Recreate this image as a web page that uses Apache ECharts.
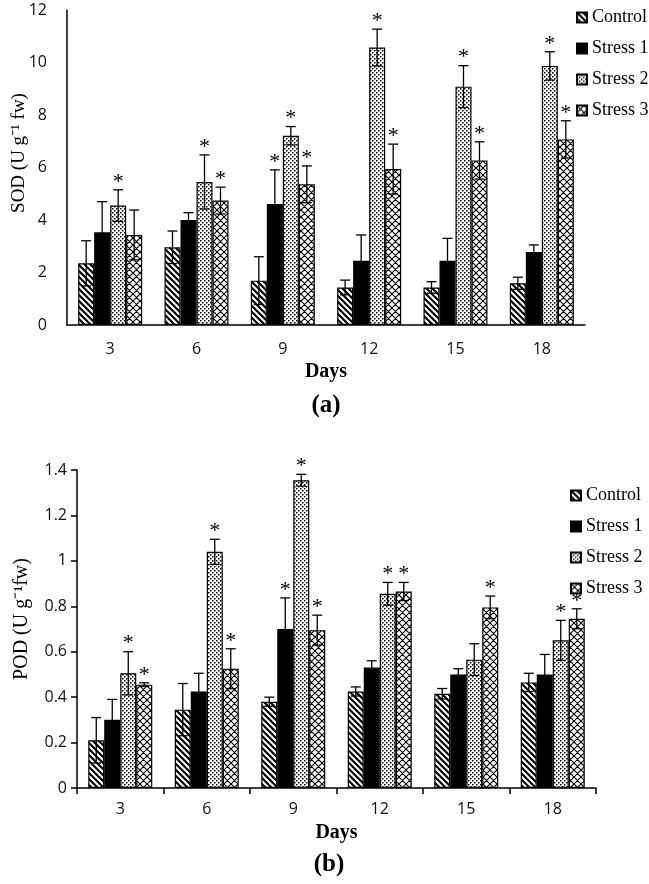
<!DOCTYPE html>
<html>
<head>
<meta charset="utf-8">
<script src="https://cdn.jsdelivr.net/npm/echarts@6/dist/echarts.min.js"></script>
<style>
html,body{margin:0;padding:0;background:#fff;}
#chart{width:649px;height:884px;}
</style>
</head>
<body>
<div id="chart"></div>
<script>
// ---------- DATA ----------
const days = ['3', '6', '9', '12', '15', '18'];
const seriesNames = ['Control', 'Stress 1', 'Stress 2', 'Stress 3'];

// (a) SOD
const sodControl    = [2.35, 2.96, 1.69, 1.43, 1.43, 1.59];
const sodControlErr = [0.86, 0.62, 0.91, 0.28, 0.22, 0.23];
const sodStress1    = [3.53, 4.00, 4.61, 2.45, 2.45, 2.78];
const sodStress1Err = [1.17, 0.28, 1.30, 0.98, 0.85, 0.27];
const sodStress2    = [4.55, 5.45, 7.21, 10.57, 9.08, 9.87];
const sodStress2Err = [0.60, 1.03, 0.35, 0.70, 0.80, 0.54];
const sodStress3    = [3.43, 4.74, 5.36, 5.94, 6.27, 7.07];
const sodStress3Err = [0.95, 0.51, 0.70, 0.95, 0.71, 0.71];
const sodStarControl = [0, 0, 0, 0, 0, 0];
const sodStarStress1 = [0, 0, 1, 0, 0, 0];
const sodStarStress2 = [1, 1, 1, 1, 1, 1];
const sodStarStress3 = [0, 1, 1, 1, 1, 1];
const sodTicks = [0, 2, 4, 6, 8, 10, 12];

// (b) POD
const podControl    = [0.21, 0.345, 0.38, 0.425, 0.415, 0.465];
const podControlErr = [0.10, 0.115, 0.02, 0.02, 0.023, 0.04];
const podStress1    = [0.30, 0.425, 0.70, 0.53, 0.50, 0.50];
const podStress1Err = [0.09, 0.08, 0.137, 0.03, 0.025, 0.088];
const podStress2    = [0.505, 1.04, 1.355, 0.855, 0.565, 0.65];
const podStress2Err = [0.095, 0.055, 0.026, 0.05, 0.07, 0.088];
const podStress3    = [0.455, 0.525, 0.695, 0.865, 0.795, 0.745];
const podStress3Err = [0.008, 0.088, 0.066, 0.04, 0.05, 0.044];
const podStarControl = [0, 0, 0, 0, 0, 0];
const podStarStress1 = [0, 0, 1, 0, 0, 0];
const podStarStress2 = [1, 1, 1, 1, 0, 1];
const podStarStress3 = [1, 1, 1, 1, 1, 1];
const podTicks = [0, 0.2, 0.4, 0.6, 0.8, 1.0, 1.2, 1.4];

// ---------- PATTERNS ----------
function makeCanvas(w, h) {
  const c = document.createElement('canvas');
  c.width = w; c.height = h;
  const g = c.getContext('2d');
  g.fillStyle = '#fff';
  g.fillRect(0, 0, w, h);
  return [c, g];
}
function hatchPattern() {
  const p = 6;
  const [c, g] = makeCanvas(p, p);
  g.strokeStyle = '#000';
  g.lineWidth = 2.1;
  g.beginPath();
  for (let k = -1; k <= 1; k++) {
    g.moveTo(k * p - p, -p);
    g.lineTo(k * p + 2 * p, 2 * p);
  }
  g.stroke();
  return c;
}
function dotPattern() {
  const [c, g] = makeCanvas(4, 4);
  g.fillStyle = '#000';
  g.fillRect(0, 0, 1.5, 1.5);
  g.fillRect(2, 2, 1.5, 1.5);
  return c;
}
function crossPattern() {
  const p = 7;
  const [c, g] = makeCanvas(p, p);
  g.strokeStyle = '#000';
  g.lineWidth = 1.1;
  g.beginPath();
  for (let k = -1; k <= 1; k++) {
    g.moveTo(k * p - p, -p);
    g.lineTo(k * p + 2 * p, 2 * p);
    g.moveTo(k * p + 2 * p, -p);
    g.lineTo(k * p - p, 2 * p);
  }
  g.stroke();
  return c;
}
const fills = [
  { image: hatchPattern(), repeat: 'repeat' },
  '#000',
  { image: dotPattern(), repeat: 'repeat' },
  { image: crossPattern(), repeat: 'repeat' }
];

// ---------- BUILD ----------
const BAR_W = 16;
const sansFont = 'Open Sans';
const serifFont = 'Liberation Serif';

function barSeries(gridIdx, valuesList) {
  return valuesList.map((vals, i) => ({
    type: 'bar',
    name: seriesNames[i],
    xAxisIndex: gridIdx,
    yAxisIndex: gridIdx,
    data: vals,
    barWidth: BAR_W,
    barGap: '0%',
    itemStyle: { color: fills[i], borderColor: '#000', borderWidth: 1.2 },
    emphasis: { disabled: true },
    silent: true,
    z: 2
  }));
}

function errorSeries(gridIdx, valuesList, errList, starList) {
  const data = [];
  valuesList.forEach((vals, si) => {
    vals.forEach((v, ci) => {
      data.push([ci, si, v, errList[si][ci], starList[si][ci]]);
    });
  });
  return {
    type: 'custom',
    xAxisIndex: gridIdx,
    yAxisIndex: gridIdx,
    data: data,
    encode: { x: 0, y: 2 },
    silent: true,
    z: 5,
    renderItem: function (params, api) {
      const ci = api.value(0), si = api.value(1), v = api.value(2), e = api.value(3), star = api.value(4);
      const c = api.coord([ci, v]);
      const x = c[0] + (si - 1.5) * BAR_W;
      const top = api.coord([ci, v + e])[1];
      const bot = api.coord([ci, Math.max(v - e, 0)])[1];
      const capHalf = 5;
      const ls = { stroke: '#000', lineWidth: 1.3 };
      const children = [
        { type: 'line', shape: { x1: x, y1: top, x2: x, y2: bot }, style: ls },
        { type: 'line', shape: { x1: x - capHalf, y1: top, x2: x + capHalf, y2: top }, style: ls },
        { type: 'line', shape: { x1: x - capHalf, y1: bot, x2: x + capHalf, y2: bot }, style: ls }
      ];
      if (star) {
        children.push({
          type: 'text',
          style: {
            text: '*', x: x, y: top - 8,
            fontFamily: serifFont, fontSize: 22, fill: '#000',
            align: 'center', verticalAlign: 'middle'
          }
        });
      }
      return { type: 'group', children: children };
    }
  };
}

const axisLineStyle = { color: '#000', width: 1.5 };
const tickLabelStyle = { fontFamily: sansFont, fontSize: 16, color: '#111' };

const option = {
  backgroundColor: '#fff',
  animation: false,
  grid: [
    { left: 67, width: 518, top: 10, height: 315 },
    { left: 77, width: 519, top: 470, height: 318 }
  ],
  xAxis: [
    {
      gridIndex: 0, type: 'category', data: days,
      axisLine: { lineStyle: axisLineStyle },
      axisTick: { show: false },
      axisLabel: Object.assign({ margin: 16 }, tickLabelStyle),
      name: 'Days', nameLocation: 'middle', nameGap: 37,
      nameTextStyle: { fontFamily: serifFont, fontWeight: 'bold', fontSize: 20, color: '#000' }
    },
    {
      gridIndex: 1, type: 'category', data: days,
      axisLine: { lineStyle: axisLineStyle },
      axisTick: { show: true, length: 6, lineStyle: { color: '#000', width: 1.5 } },
      axisLabel: Object.assign({ margin: 13 }, tickLabelStyle),
      name: 'Days', nameLocation: 'middle', nameGap: 35,
      nameTextStyle: { fontFamily: serifFont, fontWeight: 'bold', fontSize: 20, color: '#000' }
    }
  ],
  yAxis: [
    {
      gridIndex: 0, type: 'value',
      min: sodTicks[0], max: sodTicks[sodTicks.length - 1], interval: sodTicks[1] - sodTicks[0],
      axisLine: { show: true, lineStyle: axisLineStyle },
      axisTick: { show: false },
      splitLine: { show: false },
      axisLabel: Object.assign({ margin: 20 }, tickLabelStyle)
    },
    {
      gridIndex: 1, type: 'value',
      min: podTicks[0], max: podTicks[podTicks.length - 1], interval: 0.2,
      axisLine: { show: true, lineStyle: axisLineStyle },
      axisTick: { show: true, length: 6, lineStyle: { color: '#000', width: 1.5 } },
      splitLine: { show: false },
      axisLabel: Object.assign({
        margin: 10,
        formatter: function (v) { return String(Math.round(v * 10) / 10); }
      }, tickLabelStyle)
    }
  ],
  legend: [
    {
      data: seriesNames, orient: 'vertical', left: 571, top: 3,
      itemWidth: 10, itemHeight: 10, itemGap: 12, icon: 'rect',
      selectedMode: false,
      textStyle: { fontFamily: serifFont, fontSize: 18, color: '#000', lineHeight: 19 }
    },
    {
      data: seriesNames, orient: 'vertical', left: 565, top: 481,
      itemWidth: 10, itemHeight: 10, itemGap: 12, icon: 'rect',
      selectedMode: false,
      textStyle: { fontFamily: serifFont, fontSize: 18, color: '#000', lineHeight: 19 }
    }
  ],
  graphic: [
    {
      type: 'text', x: 19, y: 153, rotation: Math.PI / 2,
      style: { text: 'SOD (U g\u207B\u00B9 fw)', fontFamily: serifFont, fontSize: 19, fill: '#000', align: 'center', verticalAlign: 'middle' }
    },
    {
      type: 'text', x: 22, y: 619, rotation: Math.PI / 2,
      style: { text: 'POD (U g\u207B\u00B9fw)', fontFamily: serifFont, fontSize: 20, fill: '#000', align: 'center', verticalAlign: 'middle' }
    },
    {
      type: 'text', x: 326, y: 406,
      style: { text: '(a)', fontFamily: serifFont, fontWeight: 'bold', fontSize: 25, fill: '#000', align: 'center', verticalAlign: 'middle' }
    },
    {
      type: 'text', x: 329, y: 865,
      style: { text: '(b)', fontFamily: serifFont, fontWeight: 'bold', fontSize: 25, fill: '#000', align: 'center', verticalAlign: 'middle' }
    }
  ],
  series: [].concat(
    barSeries(0, [sodControl, sodStress1, sodStress2, sodStress3]),
    [errorSeries(0,
      [sodControl, sodStress1, sodStress2, sodStress3],
      [sodControlErr, sodStress1Err, sodStress2Err, sodStress3Err],
      [sodStarControl, sodStarStress1, sodStarStress2, sodStarStress3])],
    barSeries(1, [podControl, podStress1, podStress2, podStress3]),
    [errorSeries(1,
      [podControl, podStress1, podStress2, podStress3],
      [podControlErr, podStress1Err, podStress2Err, podStress3Err],
      [podStarControl, podStarStress1, podStarStress2, podStarStress3])]
  )
};

const chart = echarts.init(document.getElementById('chart'), null, { renderer: 'canvas' });
chart.setOption(option);
</script>
</body>
</html>
